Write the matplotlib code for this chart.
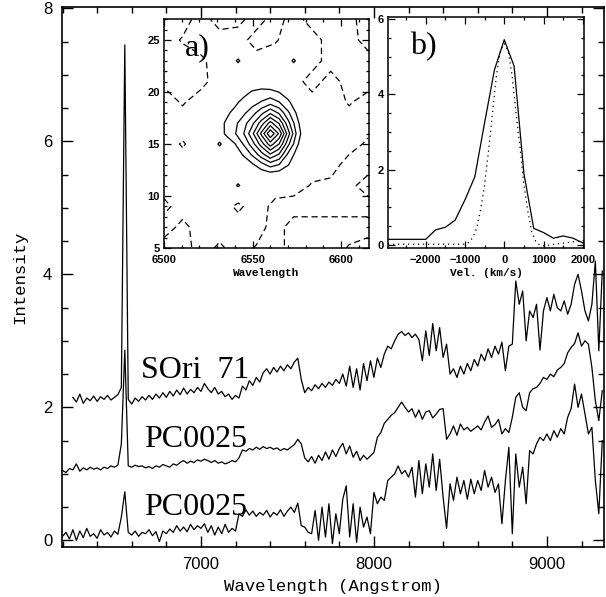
import numpy as np
import matplotlib
matplotlib.use('Agg')
import matplotlib.pyplot as plt
from matplotlib.ticker import MultipleLocator

plt.rcParams['font.family'] = ['Liberation Sans', 'DejaVu Sans']

# ---------------- main spectra (wavelength grid in Angstrom) ----------------
wavelength = np.arange(6200, 9321, 20)
nan = np.nan
sori71 = [
    nan, nan, nan, 2.15, 2.08, 2.20, 2.06, 2.14, 2.10, 2.17,
    2.09, 2.16, 2.12, 2.18, 2.11, 2.15, 2.19, 2.30, 7.45, 2.12,
    2.05, 2.14, 2.09, 2.16, 2.11, 2.18, 2.12, 2.20, 2.14, 2.22,
    2.15, 2.24, 2.17, 2.26, 2.19, 2.29, 2.20, 2.27, 2.22, 2.30,
    2.24, 2.36, 2.28, 2.22, 2.30, 2.20, 2.24, 2.16, 2.20, 2.12,
    2.18, 2.14, 2.32, 2.26, 2.40, 2.33, 2.45, 2.38, 2.52, 2.58,
    2.50, 2.60, 2.53, 2.62, 2.55, 2.64, 2.58, 2.68, 2.74, 2.42,
    2.22, 2.30, 2.25, 2.34, 2.28, 2.36, 2.30, 2.38, 2.33, 2.42,
    2.36, 2.50, 2.32, 2.62, 2.30, 2.58, 2.26, 2.66, 2.40, 2.70,
    2.45, 2.74, 2.60, 2.80, 2.92, 2.88, 3.00, 3.10, 3.14, 3.08,
    3.12, 3.05, 3.10, 3.02, 2.70, 3.15, 2.78, 3.26, 2.85, 3.20,
    2.75, 2.95, 2.50, 2.58, 2.45, 2.62, 2.50, 2.66, 2.55, 2.72,
    2.62, 2.80, 2.70, 2.88, 2.75, 2.92, 2.80, 2.98, 2.55, 2.92,
    2.95, 3.90, 3.55, 3.75, 3.00, 3.45, 3.35, 3.55, 2.86, 3.45,
    3.65, 3.45, 3.70, 3.50, 3.45, 3.60, 3.40, 3.55, 3.85, 4.00,
    3.75, 3.45, 3.30, 3.55, 4.20, 2.85, 4.05]
pc0025_mid = [
    1.05, 1.02, 1.08, 1.06, 1.15, 1.04, 1.09, 1.06, 1.10, 1.07,
    1.09, 1.06, 1.10, 1.08, 1.12, 1.10, 1.13, 1.45, 2.86, 1.12,
    1.10, 1.13, 1.11, 1.12, 1.09, 1.11, 1.08, 1.12, 1.10, 1.14,
    1.12, 1.10, 1.15, 1.13, 1.17, 1.20, 1.16, 1.19, 1.17, 1.21,
    1.19, 1.22, 1.20, 1.17, 1.20, 1.16, 1.18, 1.15, 1.17, 1.20,
    1.18, 1.24, 1.36, 1.34, 1.38, 1.36, 1.40, 1.37, 1.41, 1.38,
    1.40, 1.37, 1.39, 1.35, 1.38, 1.36, 1.40, 1.44, 1.52, 1.45,
    1.24, 1.18, 1.26, 1.16, 1.28, 1.20, 1.33, 1.22, 1.36, 1.26,
    1.38, 1.46, 1.30, 1.42, 1.25, 1.34, 1.20, 1.28, 1.22, 1.27,
    1.32, 1.55, 1.62, 1.76, 1.82, 1.88, 1.92, 2.00, 2.08, 2.00,
    1.93, 1.98, 1.85, 1.96, 1.82, 1.93, 1.95, 1.84, 1.90, 1.97,
    1.98, 1.52, 1.60, 1.72, 1.58, 1.75, 1.66, 1.70, 1.64, 1.68,
    1.72, 1.66, 1.78, 1.87, 1.70, 1.74, 1.82, 1.60, 1.68, 1.62,
    1.85, 2.15, 2.22, 2.00, 1.95, 2.22, 2.28, 2.30, 2.36, 2.45,
    2.42, 2.50, 2.46, 2.56, 2.60, 2.66, 2.82, 2.90, 2.96, 3.12,
    2.92, 3.00, 2.95, 2.60, 2.10, 1.80, 2.25]
pc0025_low = [
    0.06, 0.12, 0.02, 0.16, 0.00, 0.14, 0.04, 0.18, 0.06, 0.10,
    0.03, 0.16, 0.08, 0.12, 0.05, 0.14, 0.09, 0.35, 0.73, 0.12,
    0.08, 0.14, 0.06, 0.12, 0.10, 0.16, 0.07, 0.13, -0.02, 0.14,
    0.10, 0.17, 0.12, 0.22, 0.14, 0.20, 0.13, 0.24, 0.16, 0.22,
    0.18, 0.25, 0.12, 0.22, 0.08, 0.20, 0.10, 0.24, 0.12, 0.18,
    0.14, 0.40, 0.36, 0.46, 0.38, 0.44, 0.36, 0.42, 0.38, 0.45,
    0.35, 0.42, 0.38, 0.46, 0.36, 0.44, 0.50, 0.42, 0.56, 0.22,
    0.20, 0.12, 0.10, 0.45, 0.00, 0.50, 0.05, 0.55, -0.05, 0.40,
    0.10, 0.62, 0.82, 0.05, 0.55, -0.03, 0.50, 0.20, 0.35, 0.10,
    0.72, 0.55, 0.65, 0.60, 0.90, 0.95, 1.00, 1.12, 1.00, 1.05,
    0.95, 1.10, 0.65, 1.20, 0.70, 1.15, 0.80, 1.30, 0.75, 1.22,
    0.65, 0.18, 0.85, 0.60, 0.95, 0.70, 0.90, 0.62, 0.92, 0.70,
    0.90, 0.75, 1.05, 0.80, 0.95, 0.72, 0.85, 0.25, 0.90, 1.40,
    0.10, 1.30, 0.80, 1.10, 0.55, 1.35, 1.30, 1.45, 1.55, 1.50,
    1.60, 1.50, 1.65, 1.55, 1.68, 1.60, 1.85, 1.98, 2.35, 2.00,
    2.20, 1.90, 1.60, 1.70, 0.90, 0.40, 1.50]
spectrum_labels = ['SOri  71', 'PC0025', 'PC0025']
label_positions = [(6655, 2.44), (6670, 1.40), (6670, 0.38)]

# ---------------- inset a: position-wavelength map ----------------
blob_wl = np.arange(6530, 6581, 5)
blob_pos = np.arange(11, 22, 1)
blob_flux = [
    [0.00, 0.00, 0.00, 0.00, 0.00, 0.00, 0.00, 0.00, 0.00, 0.00, 0.00],
    [0.00, 0.02, 0.05, 0.10, 0.18, 0.30, 0.42, 0.33, 0.18, 0.07, 0.00],
    [0.05, 0.15, 0.30, 0.50, 0.85, 1.60, 2.41, 1.95, 1.05, 0.35, 0.00],
    [0.10, 0.30, 0.55, 1.10, 2.20, 3.60, 4.92, 3.90, 1.80, 0.60, 0.00],
    [0.20, 0.50, 0.95, 2.10, 3.60, 5.50, 7.53, 5.97, 3.30, 1.20, 0.00],
    [0.50, 1.12, 1.90, 3.00, 4.80, 7.26, 9.90, 7.85, 4.50, 1.75, 0.00],
    [0.60, 1.10, 1.75, 2.60, 3.80, 5.50, 7.42, 5.88, 3.38, 1.31, 0.00],
    [0.35, 0.80, 1.25, 1.80, 2.60, 3.70, 4.82, 3.82, 2.19, 0.85, 0.00],
    [0.15, 0.40, 0.80, 1.30, 1.60, 2.10, 2.59, 2.05, 1.18, 0.46, 0.00],
    [0.05, 0.15, 0.35, 0.70, 1.10, 1.25, 1.23, 0.98, 0.56, 0.22, 0.00],
    [0.00, 0.03, 0.06, 0.12, 0.30, 0.40, 0.30, 0.24, 0.14, 0.05, 0.00]]
blob_levels = [1, 2, 3, 4, 5, 6, 7, 8, 9]
noise_wl = np.linspace(6500, 6615, 12)
noise_pos = np.linspace(5, 27, 12)
noise_flux = [
    [-1.0, -1.0, 0.0, -0.7, 0.0, -0.6, -1.0, 0.0, 0.0, 0.0, -0.6, -1.0],
    [0.0, -0.8, 0.0, 0.0, 0.0, 0.0, -1.0, 0.0, 0.0, 0.0, 0.0, 0.0],
    [-0.8, 0.0, 0.0, 0.0, -0.7, 0.0, -0.8, -1.0, -1.0, -1.0, -1.0, -1.0],
    [0.0, 0.0, 0.0, 0.0, 0.55, 0.0, 0.0, 0.0, -0.6, -0.8, -0.8, 0.0],
    [0.0, 0.0, 0.0, 0.0, 0.0, 0.0, 0.0, 0.0, 0.0, 0.0, -1.0, -1.0],
    [0.0, -0.6, 0.0, 0.55, 0.0, 0.0, 0.0, 0.0, 0.0, 0.0, 0.0, -0.7],
    [0.0, 0.0, 0.0, 0.0, 0.0, 0.0, 0.0, 0.0, 0.0, 0.0, 0.0, 0.0],
    [0.0, -0.6, 0.0, 0.0, 0.0, 0.0, 0.0, 0.0, 0.0, 0.0, -0.6, 0.0],
    [-0.7, -1.0, -0.8, 0.0, 0.0, 0.0, 0.0, 0.0, -1.0, 0.0, -1.0, -1.0],
    [-1.0, -1.0, -0.7, 0.0, 0.55, 0.0, 0.0, 0.55, 0.0, -1.0, -1.0, -1.0],
    [-1.0, -0.4, 0.0, 0.0, 0.0, -1.0, -0.6, 0.0, 0.0, -1.0, -1.0, 0.0],
    [-1.0, -1.0, 0.0, -1.0, -0.8, 0.0, -1.0, 0.0, -1.0, -1.0, -0.8, 0.0]]

# ---------------- inset b: velocity profiles ----------------
vel_obs = [-2960, -2000, -1750, -1500, -1250, -1000, -750, -500, -250, 0,
           250, 500, 750, 1000, 1250, 1500, 1750, 2030]
flux_obs = [0.15, 0.15, 0.40, 0.47, 0.66, 1.20, 1.81, 3.25, 4.65, 5.45,
            4.75, 1.90, 0.44, 0.33, 0.18, 0.24, 0.18, 0.04]
vel_inst = [-2960, -2000, -1000, -900, -800, -700, -600, -500, -400, -300,
            -200, -100, 0, 100, 200, 300, 400, 500, 600, 700, 800, 900,
            1000, 1500, 2030]
flux_inst = [0.02, 0.02, 0.02, 0.07, 0.20, 0.45, 0.95, 1.60, 2.50, 3.50,
             4.50, 5.15, 5.35, 5.15, 4.50, 3.50, 2.60, 1.60, 0.90, 0.35,
             0.10, 0.00, -0.02, 0.05, 0.12]

W, H = 606, 597
fig = plt.figure(figsize=(W / 100, H / 100), dpi=100)

ax = fig.add_axes([62 / W, 50 / H, 542 / W, 540 / H])
for flux in (sori71, pc0025_mid, pc0025_low):
    ax.plot(wavelength, flux, color='black', lw=0.9)
for text, (xp, yp) in zip(spectrum_labels, label_positions):
    ax.text(xp, yp, text, family='Liberation Serif', fontsize=23,
            va='baseline', ha='left')
ax.set_xlim(6197, 9330)
ax.set_ylim(-0.1, 8.02)
ax.xaxis.set_major_locator(MultipleLocator(1000))
ax.xaxis.set_minor_locator(MultipleLocator(200))
ax.yaxis.set_major_locator(MultipleLocator(2))
ax.yaxis.set_minor_locator(MultipleLocator(0.5))
ax.tick_params(which='both', direction='in', top=True, right=True, width=1.0)
ax.tick_params(which='major', length=8, labelsize=12, pad=7)
ax.tick_params(which='minor', length=4.5)
ax.set_xlabel('Wavelength (Angstrom)', family='Liberation Mono', fontsize=12.5,
              labelpad=5)
ax.set_ylabel('Intensity', family='Liberation Mono', fontsize=12.5, labelpad=11)
for s in ax.spines.values():
    s.set_linewidth(1.2)

# inset a
axa = fig.add_axes([164 / W, 349 / H, 205 / W, 229.5 / H])
axa.set_facecolor('white')
axa.contour(blob_wl, blob_pos, np.array(blob_flux), levels=blob_levels,
            colors='black', linewidths=0.9)
axa.contour(noise_wl, noise_pos, np.array(noise_flux), levels=[-0.5],
            colors='black', linewidths=0.9, linestyles=[(0, (5, 3))])
axa.contour(noise_wl, noise_pos, np.array(noise_flux), levels=[0.5],
            colors='black', linewidths=0.9, linestyles='solid')
axa.set_xlim(6500, 6615.7)
axa.set_ylim(5, 27.07)
axa.xaxis.set_major_locator(MultipleLocator(50))
axa.xaxis.set_minor_locator(MultipleLocator(10))
axa.yaxis.set_major_locator(MultipleLocator(5))
axa.yaxis.set_minor_locator(MultipleLocator(1))
axa.set_xlabel('Wavelength', family='Liberation Mono', fontweight='bold',
               fontsize=8, labelpad=2)
axa.text(0.10, 0.838, 'a)', transform=axa.transAxes, family='Liberation Serif',
         fontsize=23, va='baseline')

# inset b
axb = fig.add_axes([388 / W, 349 / H, 196 / W, 231.5 / H])
axb.set_facecolor('white')
axb.plot(vel_obs, flux_obs, color='black', lw=0.9)
axb.plot(vel_inst, flux_inst, color='black', lw=0.9, linestyle=(0, (1, 3)))
axb.set_xlim(-2960, 2030)
axb.set_ylim(-0.08, 6.066)
axb.xaxis.set_major_locator(MultipleLocator(1000))
axb.xaxis.set_minor_locator(MultipleLocator(500))
axb.yaxis.set_major_locator(MultipleLocator(2))
axb.yaxis.set_minor_locator(MultipleLocator(0.5))
axb.set_xlabel('Vel. (km/s)', family='Liberation Mono', fontweight='bold',
               fontsize=8, labelpad=2)
axb.text(0.112, 0.838, 'b)', transform=axb.transAxes, family='Liberation Serif',
         fontsize=23, va='baseline')

for a in (axa, axb):
    a.tick_params(which='both', direction='in', top=True, right=True, width=0.9)
    a.tick_params(which='major', length=5, labelsize=8)
    a.tick_params(axis='x', which='major', pad=5)
    a.tick_params(axis='y', which='major', pad=3)
    a.tick_params(which='minor', length=2.5)
    for lab in a.get_xticklabels() + a.get_yticklabels():
        lab.set_fontweight('bold')
    for s in a.spines.values():
        s.set_linewidth(1.1)

fig.savefig('out.png', dpi=100)
